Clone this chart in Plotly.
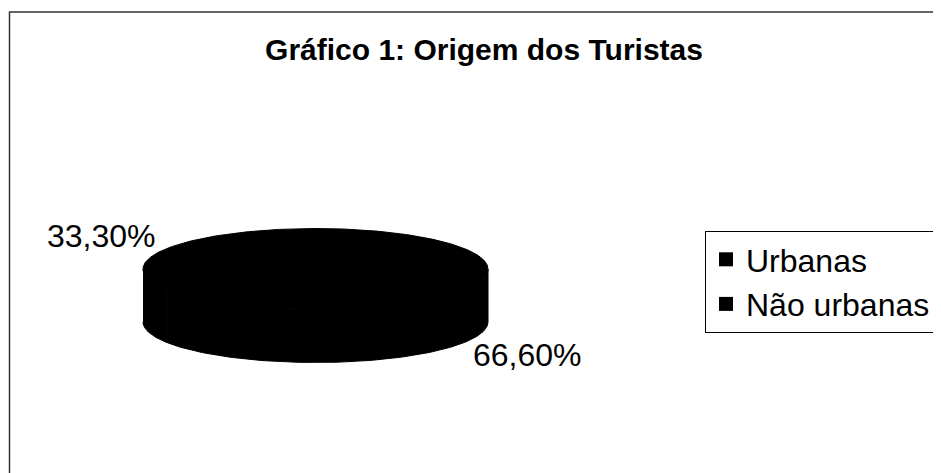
"""
Gráfico 1: Origem dos Turistas - 3D-style pie (flattened disc) drawn with Plotly
"""

import numpy as np
import plotly.graph_objects as go

# Data
CATEGORIES = ["Urbanas", "Não urbanas"]
VALUES = [33.3, 66.6]
LABELS = ["33,30%", "66,60%"]
TITLE = "Gráfico 1: Origem dos Turistas"

# Page geometry: the figure sits 8px in from the page corner (body margin),
# so axes are set up so that one data unit = one page pixel.
W, H = 941, 473
OFF = 8

# Geometry of the disc (page pixels)
CX, CY = 315.5, 269      # centre of the top face
RX, RY = 172.5, 40.5     # semi-axes of the top face
DEPTH = 53               # thickness of the disc
SLICE_COLOR = "#000000"
FONT = "Liberation Sans, Arial, sans-serif"


def px_x(x):
    return (x - OFF) / W


def px_y(y):
    return 1 - (y - OFF) / H


def top_point(theta):
    """theta in radians, from 12 o'clock, counter-clockwise"""
    return CX - RX * np.sin(theta), CY - RY * np.cos(theta)


def slice_angles(values):
    total = sum(values)
    out, start = [], 0.0
    for v in values:
        end = start + 2 * np.pi * v / total
        out.append((start, end))
        start = end
    return out


fig = go.Figure()

angles = slice_angles(VALUES)

# Side walls (only the front half of the disc is visible)
for (t0, t1) in angles:
    s0, s1 = max(t0, np.pi / 2), min(t1, 3 * np.pi / 2)
    if s1 <= s0:
        continue
    th = np.linspace(s0, s1, 120)
    xs, ys = top_point(th)
    fig.add_trace(go.Scatter(
        x=np.concatenate([xs, xs[::-1]]),
        y=np.concatenate([ys, ys[::-1] + DEPTH]),
        mode='lines', fill='toself',
        fillcolor=SLICE_COLOR, line=dict(color=SLICE_COLOR, width=1),
        hoverinfo='skip', showlegend=False
    ))

# Top faces
for (t0, t1), cat, val in zip(angles, CATEGORIES, VALUES):
    th = np.linspace(t0, t1, 200)
    xs, ys = top_point(th)
    fig.add_trace(go.Scatter(
        x=np.concatenate([[CX], xs, [CX]]),
        y=np.concatenate([[CY], ys, [CY]]),
        mode='lines', fill='toself',
        fillcolor=SLICE_COLOR, line=dict(color=SLICE_COLOR, width=1),
        name=cat,
        hovertemplate=f"<b>{cat}</b><br>{val:.1f}%<extra></extra>",
        showlegend=False
    ))

# Data labels, placed outside each slice at its mid angle
for (t0, t1), lab in zip(angles, LABELS):
    mid = (t0 + t1) / 2
    x, y = top_point(mid)
    front = np.cos(mid) < 0
    left = np.sin(mid) > 0
    fig.add_annotation(
        x=x, y=y + (DEPTH if front else 0),
        text=lab, showarrow=False,
        xanchor='right' if left else 'left',
        yanchor='middle',
        xshift=-8 if left else 6,
        yshift=13 if not front else -13,
        font=dict(family=FONT, size=32, color='black')
    )

# Legend entries
for cat in CATEGORIES:
    fig.add_trace(go.Scatter(
        x=[None], y=[None], mode='markers',
        marker=dict(size=14, color=SLICE_COLOR, symbol='square'),
        name=cat, showlegend=True
    ))

# Chart-area border (right and bottom edges fall outside the page)
fig.add_shape(
    type='rect', xref='paper', yref='paper',
    x0=px_x(OFF + 1.5), x1=1.05, y0=-0.05, y1=px_y(12),
    line=dict(color='#333333', width=1.5), fillcolor='rgba(0,0,0,0)',
    layer='below'
)

fig.update_layout(
    width=W, height=H,
    margin=dict(l=0, r=0, t=0, b=0, autoexpand=False),
    paper_bgcolor='white', plot_bgcolor='white',
    title=dict(
        text=f"<b>{TITLE}</b>",
        x=px_x(484), xanchor='center', xref='paper',
        y=px_y(49), yanchor='middle', yref='paper',
        font=dict(family=FONT, size=30, color='black')
    ),
    xaxis=dict(range=[OFF, OFF + W], visible=False, fixedrange=True),
    yaxis=dict(range=[OFF + H, OFF], visible=False, fixedrange=True),
    legend=dict(
        x=px_x(705), xanchor='left',
        y=px_y(231), yanchor='top',
        bgcolor='white', bordercolor='black', borderwidth=1,
        font=dict(family=FONT, size=32, color='black'),
        tracegroupgap=0
    ),
    showlegend=True
)

fig.write_html("out.html")
